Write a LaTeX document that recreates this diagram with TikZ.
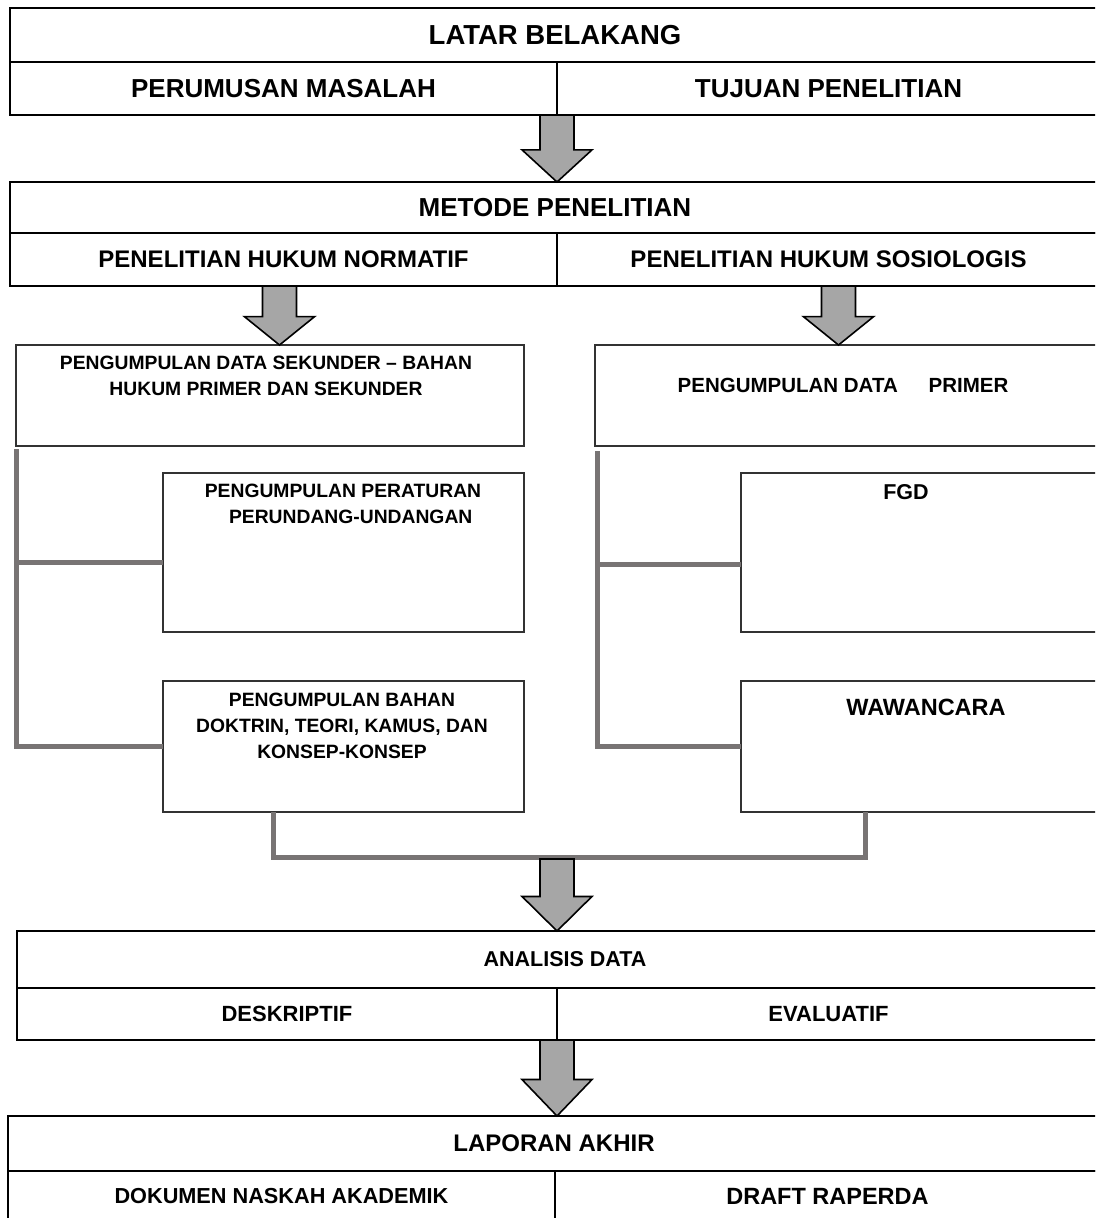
\documentclass[tikz,border=0pt]{standalone}
\usepackage{fontspec}
\setmainfont{Liberation Sans}
\usetikzlibrary{calc}
\definecolor{linkgray}{RGB}{120,116,116}
\definecolor{arrowgray}{RGB}{166,166,166}
\definecolor{boxline}{RGB}{50,50,50}
\newcommand{\fsz}[1]{\bfseries\fontsize{#1pt}{1.35\dimexpr #1pt\relax}\selectfont}
\newcommand{\blkarrow}[2]{%
  \draw[bigarrow] let \p1=(#1), \p2=(#2), \n1={\y2+0.48*(\y1-\y2)} in
    (\x1-17,\y1) -- (\x1+17,\y1) -- (\x1+17,\n1) -- (\x1+35,\n1) -- (\x1,\y2)
    -- (\x1-35,\n1) -- (\x1-17,\n1) -- cycle;}
\begin{document}
\begin{tikzpicture}[x=1pt,y=-1pt,
  cell/.style={draw=black, line width=2.6pt, rectangle, inner sep=0pt, outer sep=0pt, align=center},
  box/.style={draw=boxline, line width=1.4pt, rectangle, inner sep=0pt, outer sep=0pt},
  btxt/.style={inner sep=0pt, align=center, font=\fsz{19.3}},
  conn/.style={draw=linkgray, line width=5pt},
  bigarrow/.style={fill=arrowgray, draw=black, line width=1.6pt, line join=miter}]
\useasboundingbox (0,0) rectangle (1095,1218);
\clip (0,0) rectangle (1095,1218);
\fill[white] (0,0) rectangle (1095,1218);

% ---- table 1
\node[cell, minimum width=1090, minimum height=54, font=\fsz{27.5}] (lb) at (555,35) {LATAR BELAKANG};
\node[cell, minimum width=547, minimum height=53, font=\fsz{26}] (pm) at (283.5,88.5) {PERUMUSAN MASALAH};
\node[cell, minimum width=543, minimum height=53, font=\fsz{26}] (tp) at (828.5,88.5) {TUJUAN PENELITIAN};

% ---- table 2
\node[cell, minimum width=1090, minimum height=51, font=\fsz{26}] (mp) at (555,207.5) {METODE PENELITIAN};
\node[cell, minimum width=547, minimum height=53, font=\fsz{24}] (hn) at (283.5,259.5) {PENELITIAN HUKUM NORMATIF};
\node[cell, minimum width=543, minimum height=53, font=\fsz{24}] (hs) at (828.5,259.5) {PENELITIAN HUKUM SOSIOLOGIS};

% ---- boxes
\node[box, minimum width=508, minimum height=101] (bA) at (270,395.5) {};
\node[box, minimum width=505, minimum height=101] (bB) at (847.5,395.5) {};
\node[box, minimum width=361, minimum height=159] (bC) at (343.5,552.5) {};
\node[box, minimum width=361, minimum height=131] (bD) at (343.5,746.5) {};
\node[box, minimum width=359, minimum height=159] (bE) at (920.5,552.5) {};
\node[box, minimum width=359, minimum height=131] (bF) at (920.5,746.5) {};

\node[btxt] (tA) at (266,375.5) {PENGUMPULAN DATA SEKUNDER -- BAHAN\\HUKUM PRIMER DAN SEKUNDER};
\node[btxt, font=\fsz{20.5}] (tB) at (843,385) {PENGUMPULAN DATA\hspace{1.5em}PRIMER};
\node[btxt] (tC) at (343,503.5) {PENGUMPULAN PERATURAN\\\hspace{0.8em}PERUNDANG-UNDANGAN};
\node[btxt] (tD) at (342,725.5) {PENGUMPULAN BAHAN\\DOKTRIN, TEORI, KAMUS, DAN\\KONSEP-KONSEP};
\node[btxt, font=\fsz{21.5}] (tE) at (906,492) {FGD};
\node[btxt, font=\fsz{23.5}] (tF) at (926,707) {WAWANCARA};

% ---- gray connectors
\coordinate (cC) at ([yshift=-10pt]bC.west);
\coordinate (cE) at ([yshift=-12pt]bE.west);
\coordinate (lA) at ([yshift=-3pt]bA.south west);
\coordinate (lB) at ([xshift=2pt,yshift=-5pt]bB.south west);
\draw[conn] (lA) |- (bD.west);
\draw[conn] (lA |- cC) -- (cC);
\draw[conn] (lB) |- (bF.west);
\draw[conn] (lB |- cE) -- (cE);
\draw[conn] ([xshift=-70pt]bD.south) -- ++(0,45) -| ([xshift=-55.5pt]bF.south);
\coordinate (jn) at (557,859);

% ---- table 3
\node[cell, minimum width=1083, minimum height=57, font=\fsz{21.5}] (ad) at (558.5,959.5) {\hspace*{13pt}ANALISIS DATA};
\node[cell, minimum width=540, minimum height=52, font=\fsz{22}] (de) at (287,1014) {DESKRIPTIF};
\node[cell, minimum width=543, minimum height=52, font=\fsz{22}] (ev) at (828.5,1014) {EVALUATIF};

% ---- table 4
\node[cell, minimum width=1092, minimum height=55, font=\fsz{24}] (la) at (554,1143.5) {LAPORAN AKHIR};
\node[cell, minimum width=547, minimum height=51, font=\fsz{21.7}] (dk) at (281.5,1196.5) {DOKUMEN NASKAH AKADEMIK};
\node[cell, minimum width=545, minimum height=51, font=\fsz{23.5}] (dr) at (827.5,1196.5) {DRAFT RAPERDA};

% ---- block arrows
\blkarrow{pm.south east}{mp.north}
\blkarrow{[xshift=-4pt]hn.south}{bA.north}
\blkarrow{[xshift=10pt]hs.south}{bB.north}
\blkarrow{jn}{ad.north}
\blkarrow{de.south east}{la.north}
\end{tikzpicture}
\end{document}
